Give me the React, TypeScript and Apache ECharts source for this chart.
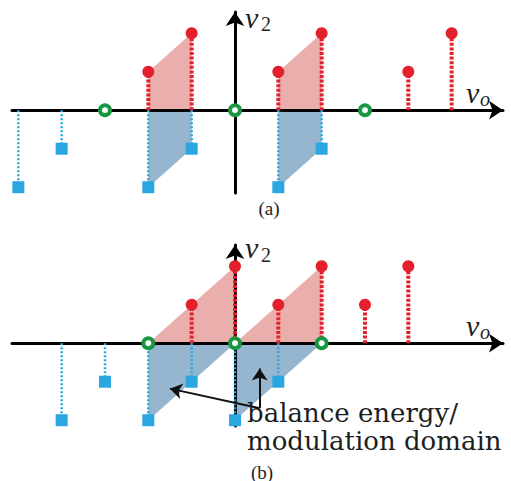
import React, { useEffect, useRef } from 'react';
import * as echarts from 'echarts';

// Panel (a)
const aRedX = [-2, -1, 1, 2, 4, 5];
const aRedY = [1, 2, 1, 2, 1, 2];
const aBlueX = [-5, -4, -2, -1, 1, 2];
const aBlueY = [-2, -1, -2, -1, -2, -1];
const aGreenX = [-3, 0, 3];
const aRedShade = [
  [[-2, 0], [-2, 1], [-1, 2], [-1, 0]],
  [[1, 0], [1, 1], [2, 2], [2, 0]],
];
const aBlueShade = [
  [[-2, 0], [-2, -2], [-1, -1], [-1, 0]],
  [[1, 0], [1, -2], [2, -1], [2, 0]],
];

// Panel (b)
const bRedX = [-1, 0, 1, 2, 3, 4];
const bRedY = [1, 2, 1, 2, 1, 2];
const bBlueX = [-4, -3, -2, -1, 0, 1];
const bBlueY = [-2, -1, -2, -1, -2, -1];
const bGreenX = [-2, 0, 2];
const bRedShade = [
  [[-2, 0], [0, 2], [0, 0]],
  [[0, 0], [2, 2], [2, 0]],
];
const bBlueShade = [
  [[-2, 0], [-2, -2], [0, 0]],
  [[0, 0], [0, -2], [2, 0]],
];
const bArrows = [
  [[0.57, -1.69], [-1.5, -1.18]],
  [[0.57, -1.69], [0.57, -0.66]],
];
const noteLines = ['balance energy/', 'modulation domain'];

const RED = '#e3202b';
const BLUE = '#2aa7e0';
const GREEN = '#17973f';
const RED_FILL = '#eaafad';
const BLUE_FILL = '#96b6cf';
const SERIF = '"Times New Roman", "Liberation Serif", Tinos, serif';
const NOTE_FONT = '"DejaVu Serif", serif';

const X_MIN = -5.146;
const X_MAX = 6.185;
const Y_MIN = -2.15;
const Y_MAX = 2.55;

function stemSeries(idx: number, xs: number[], ys: number[], color: string, width: number, dash: number[]) {
  return {
    type: 'custom',
    xAxisIndex: idx,
    yAxisIndex: idx,
    z: 3,
    data: xs.map((x, i) => [x, ys[i]]),
    renderItem: (_p: any, api: any) => {
      const x = api.value(0);
      const y = api.value(1);
      const p0 = api.coord([x, 0]);
      const p1 = api.coord([x, y]);
      return {
        type: 'line',
        shape: { x1: p0[0], y1: p0[1], x2: p1[0], y2: p1[1] },
        style: { stroke: color, lineWidth: width, lineDash: dash, fill: null },
      };
    },
  };
}

function shadeSeries(idx: number, polys: number[][][], color: string) {
  return {
    type: 'custom',
    xAxisIndex: idx,
    yAxisIndex: idx,
    z: 1,
    data: polys.map((p) => p.flat()),
    renderItem: (_p: any, api: any) => {
      const n = polys[0].length;
      const pts: number[][] = [];
      for (let k = 0; k < n; k++) {
        pts.push(api.coord([api.value(2 * k), api.value(2 * k + 1)]));
      }
      return {
        type: 'polygon',
        shape: { points: pts },
        style: { fill: color, stroke: null },
      };
    },
  };
}

function headSeries(idx: number, xs: number[], ys: number[], symbol: string, size: number, color: string) {
  return {
    type: 'scatter',
    xAxisIndex: idx,
    yAxisIndex: idx,
    z: 4,
    symbol,
    symbolSize: size,
    itemStyle: { color, opacity: 1 },
    data: xs.map((x, i) => [x, ys[i]]),
  };
}

function greenSeries(idx: number, xs: number[]) {
  return {
    type: 'scatter',
    xAxisIndex: idx,
    yAxisIndex: idx,
    z: 5,
    symbol: 'circle',
    symbolSize: 10,
    itemStyle: { color: '#ffffff', borderColor: GREEN, borderWidth: 4, opacity: 1 },
    data: xs.map((x) => [x, 0]),
  };
}

function axisCommon(idx: number, isX: boolean) {
  return {
    type: 'value',
    gridIndex: idx,
    min: isX ? X_MIN : Y_MIN,
    max: isX ? X_MAX : Y_MAX,
    z: 2,
    axisLine: {
      show: true,
      onZero: true,
      symbol: ['none', 'arrow'],
      symbolSize: [14, 14],
      lineStyle: { color: '#000', width: 3 },
    },
    axisTick: { show: false },
    axisLabel: { show: false },
    splitLine: { show: false },
  };
}

function txt(
  text: string,
  x: number,
  y: number,
  size: number,
  italic: boolean,
  align = 'left',
  lineHeight?: number,
  family = SERIF
) {
  return {
    type: 'text',
    x,
    y,
    z: 10,
    style: {
      text,
      fontFamily: family,
      fontSize: size,
      fontStyle: italic ? 'italic' : 'normal',
      fill: '#1e1e1e',
      align,
      verticalAlign: 'middle',
      lineHeight: lineHeight || size,
    },
  };
}

export default function App() {
  const ref = useRef<HTMLDivElement>(null);
  useEffect(() => {
    if (!ref.current) return;
    const chart = echarts.init(ref.current, undefined, { renderer: 'svg' });
    const option: any = {
      animation: false,
      backgroundColor: '#ffffff',
      grid: [
        { left: 12, width: 491, top: 12, height: 181 },
        { left: 12, width: 491, top: 245, height: 181 },
      ],
      xAxis: [axisCommon(0, true), axisCommon(1, true)],
      yAxis: [axisCommon(0, false), axisCommon(1, false)],
      series: [
        shadeSeries(0, aRedShade, RED_FILL),
        shadeSeries(0, aBlueShade, BLUE_FILL),
        stemSeries(0, aRedX, aRedY, RED, 4, [3, 1.6]),
        stemSeries(0, aBlueX, aBlueY, BLUE, 2.5, [2, 2]),
        headSeries(0, aRedX, aRedY, 'circle', 12, RED),
        headSeries(0, aBlueX, aBlueY, 'rect', 12, BLUE),
        greenSeries(0, aGreenX),

        shadeSeries(1, bRedShade, RED_FILL),
        shadeSeries(1, bBlueShade, BLUE_FILL),
        stemSeries(1, bRedX, bRedY, RED, 4, [3, 1.6]),
        stemSeries(1, bBlueX, bBlueY, BLUE, 2.5, [2, 2]),
        headSeries(1, bRedX, bRedY, 'circle', 12, RED),
        headSeries(1, bBlueX, bBlueY, 'rect', 12, BLUE),
        greenSeries(1, bGreenX),
        {
          type: 'lines',
          coordinateSystem: 'cartesian2d',
          xAxisIndex: 1,
          yAxisIndex: 1,
          z: 6,
          symbol: ['none', 'arrow'],
          symbolSize: 12,
          lineStyle: { color: '#111', width: 2, opacity: 1, curveness: 0 },
          data: bArrows.map((c) => ({ coords: c })),
        },
      ],
      graphic: [
        txt('v', 245, 17.5, 30, true, 'left', 26),
        txt('2', 261, 24.3, 20, false),
        txt('v', 466, 92.5, 30, true, 'left', 26),
        txt('o', 480, 99.3, 20, true),
        txt('(a)', 269, 208, 19, false, 'center'),
        txt('v', 245, 247.5, 30, true, 'left', 26),
        txt('2', 261, 255.3, 20, false),
        txt('v', 466, 325.5, 30, true, 'left', 26),
        txt('o', 480, 332.3, 20, true),
        txt(noteLines.join('\n'), 247, 427, 26, false, 'left', 28, NOTE_FONT),
        txt('(b)', 262, 472, 19, false, 'center'),
      ],
    };
    chart.setOption(option);
    return () => chart.dispose();
  }, []);
  return (
    <div
      ref={ref}
      style={{ position: 'fixed', left: 0, top: 0, width: 511, height: 481, background: '#fff' }}
    />
  );
}
